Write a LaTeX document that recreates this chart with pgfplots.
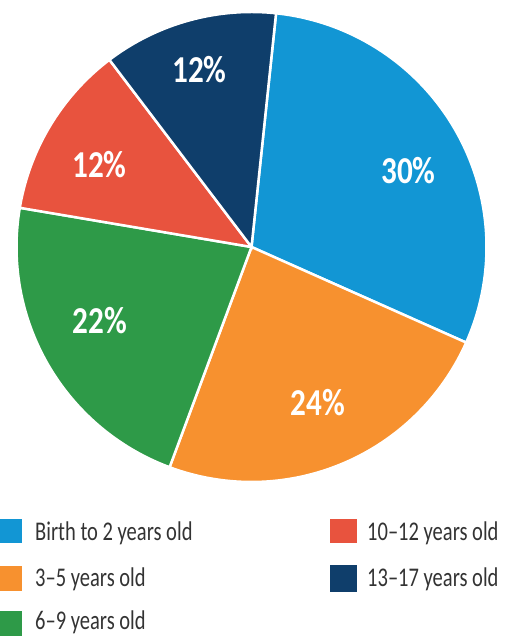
\documentclass[border=0pt]{standalone}
\usepackage{pgfplots}
\pgfplotsset{compat=1.18}
\usepackage{fontspec}
\setmainfont{Carlito}
\newfontfamily\labfont[FakeStretch=0.82]{Carlito}
\newfontfamily\legfont[FakeStretch=0.76]{Carlito}
\definecolor{cBlue}{HTML}{1296D4}
\definecolor{cOrange}{HTML}{F7912F}
\definecolor{cGreen}{HTML}{2E9A48}
\definecolor{cRed}{HTML}{E8533E}
\definecolor{cNavy}{HTML}{0F3E6B}
\definecolor{cText}{HTML}{333333}
% shares in percent
\def\pA{30}\def\pB{24}\def\pC{22}\def\pD{12}\def\pE{12}
\def\cx{251.5}\def\cy{-247}\def\R{235}
\pgfmathsetmacro\aA{84}
\pgfmathsetmacro\aB{\aA-3.6*\pA}
\pgfmathsetmacro\aC{\aB-3.6*\pB}
\pgfmathsetmacro\aD{\aC-3.6*\pC}
\pgfmathsetmacro\aE{\aD-3.6*\pD}
\pgfmathsetmacro\aF{\aE-3.6*\pE}
\begin{document}
\begin{tikzpicture}
\begin{axis}[name=main, scale only axis, width=507pt, height=636pt,
  xmin=0, xmax=507, ymin=-636, ymax=0, hide axis, clip=false]
\addplot[draw=none] coordinates {(0,0) (507,-636)};
\addplot[fill=cBlue, draw=white, line width=2.5pt, domain=\aB:\aA, samples=90, variable=\t]
  ({\cx+\R*cos(\t)},{\cy+\R*sin(\t)}) -- (axis cs:\cx,\cy) -- cycle;
\addplot[fill=cOrange, draw=white, line width=2.5pt, domain=\aC:\aB, samples=90, variable=\t]
  ({\cx+\R*cos(\t)},{\cy+\R*sin(\t)}) -- (axis cs:\cx,\cy) -- cycle;
\addplot[fill=cGreen, draw=white, line width=2.5pt, domain=\aD:\aC, samples=90, variable=\t]
  ({\cx+\R*cos(\t)},{\cy+\R*sin(\t)}) -- (axis cs:\cx,\cy) -- cycle;
\addplot[fill=cRed, draw=white, line width=2.5pt, domain=\aE:\aD, samples=60, variable=\t]
  ({\cx+\R*cos(\t)},{\cy+\R*sin(\t)}) -- (axis cs:\cx,\cy) -- cycle;
\addplot[fill=cNavy, draw=white, line width=2.5pt, domain=\aF:\aE, samples=60, variable=\t]
  ({\cx+\R*cos(\t)},{\cy+\R*sin(\t)}) -- (axis cs:\cx,\cy) -- cycle;
% slice labels
\tikzset{lab/.style={text=white, font=\labfont\bfseries\fontsize{38}{38}\selectfont, inner sep=0pt}}
\node[lab] at (axis cs:408.5,-171) {\pA\%};
\node[lab] at (axis cs:318,-403) {\pB\%};
\node[lab] at (axis cs:100,-321) {\pC\%};
\node[lab] at (axis cs:99.5,-165) {\pD\%};
\node[lab] at (axis cs:199.5,-70) {\pE\%};
% legend
\tikzset{leg/.style={text=cText, font=\legfont\fontsize{27}{27}\selectfont, inner sep=0pt, anchor=base west}}
\fill[cBlue] (axis cs:-5,-519) rectangle (axis cs:22,-543);
\fill[cOrange] (axis cs:-5,-566) rectangle (axis cs:22,-591);
\fill[cGreen] (axis cs:-5,-611) rectangle (axis cs:22,-636);
\fill[cRed] (axis cs:330,-519) rectangle (axis cs:357,-543);
\fill[cNavy] (axis cs:330,-565) rectangle (axis cs:357,-592);
\node[leg] at (axis cs:35,-541) {Birth to 2 years old};
\node[leg] at (axis cs:35,-587) {3–5 years old};
\node[leg] at (axis cs:35,-630) {6–9 years old};
\node[leg] at (axis cs:367,-541) {10–12 years old};
\node[leg] at (axis cs:367,-587) {13–17 years old};
\end{axis}
\pgfresetboundingbox
\path (main.south west) rectangle (main.north east);
\end{tikzpicture}
\end{document}
